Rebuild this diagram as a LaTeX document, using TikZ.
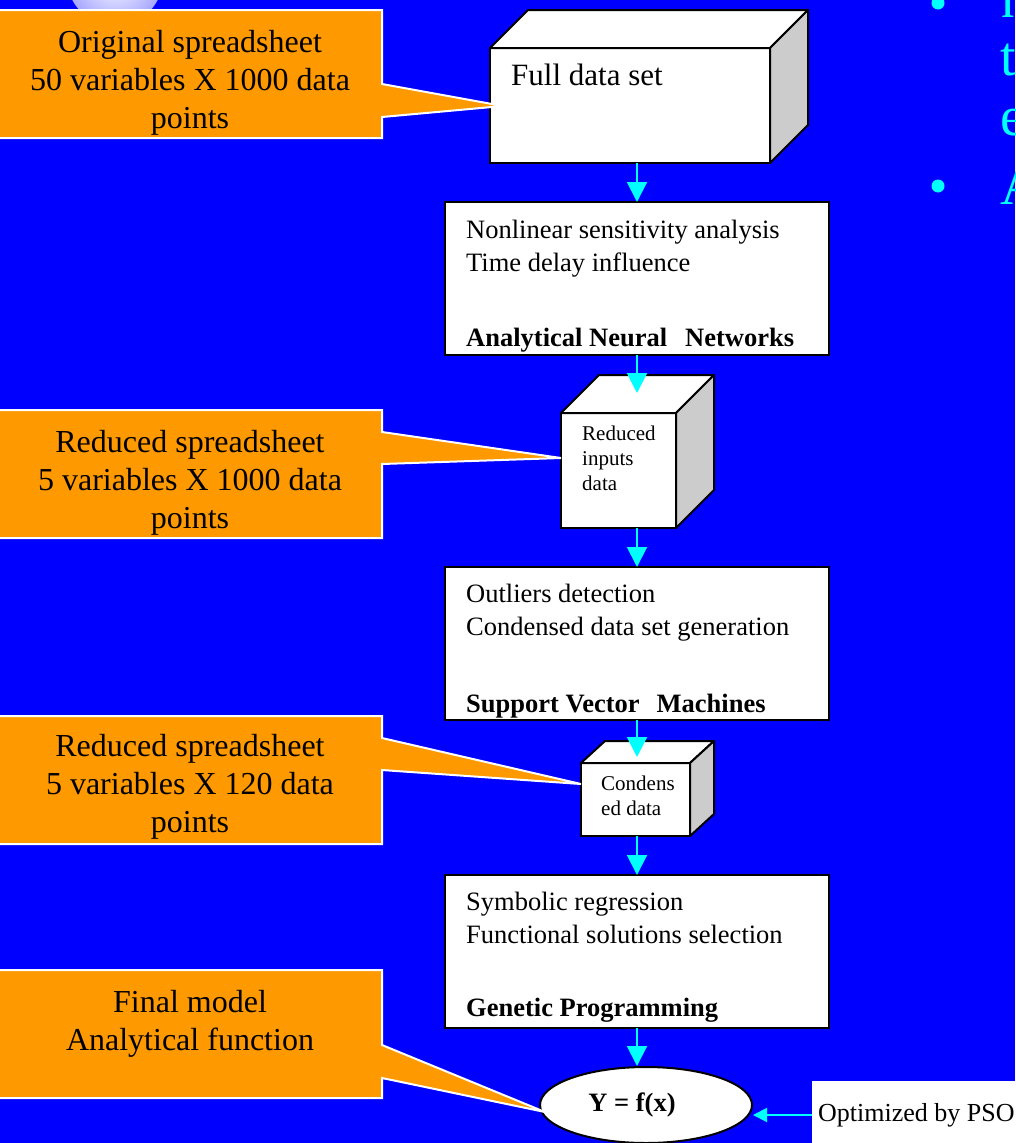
\documentclass[tikz,border=0pt]{standalone}
\usepackage{fontspec}
\setmainfont{Liberation Serif}
\usetikzlibrary{arrows.meta,shapes.geometric}

\definecolor{slideblue}{HTML}{0000FF}
\definecolor{calloutorange}{HTML}{FF9900}
\definecolor{flowcyan}{HTML}{00FFFF}
\definecolor{cubeside}{HTML}{CCCCCC}

\tikzset{
  procbox/.style={draw=black, fill=white, line width=2pt, rectangle, outer sep=0pt,
    minimum width=384pt, minimum height=153pt, anchor=north west},
  cubefront/.style={draw=black, fill=white, line width=2pt, rectangle, outer sep=0pt,
    anchor=north west},
  cubeedge/.style={draw=black, line width=2pt, line join=round},
  callout/.style={fill=calloutorange, draw=white, line width=2pt},
  calltext/.style={font=\fontsize{32}{38}\selectfont, align=center, anchor=base, inner sep=0pt},
  boxtext/.style={font=\fontsize{26.5}{32.5}\selectfont, align=left, anchor=base west, inner sep=0pt},
  boldtext/.style={font=\fontsize{26.5}{32.5}\selectfont\bfseries, anchor=base west, inner sep=0pt},
  cubetext/.style={font=\fontsize{21}{25}\selectfont, align=left, anchor=base west, inner sep=0pt},
  slidetext/.style={font=\fontsize{56}{60}\selectfont, text=flowcyan, anchor=base west, inner sep=0pt},
  flow/.style={draw=flowcyan, line width=2pt, -{Triangle[length=20pt,width=20pt]}},
  smallflow/.style={draw=flowcyan, line width=2pt, -{Triangle[length=14pt,width=14pt]}}
}

\begin{document}
\begin{tikzpicture}[x=1pt, y=-1pt]
\useasboundingbox (0,0) rectangle (1015,1143);
\fill[slideblue] (0,0) rectangle (1015,1143);

% glow behind the first callout
\shade[inner color=white, outer color=slideblue!35!white] (115,-22) circle (48);

% slide text on the right
\fill[flowcyan] (938,3) circle (6.5);
\fill[flowcyan] (938,186) circle (6.5);
\node[slidetext] (s1) at (1001,17) {n};
\node[slidetext] (s2) at (1000,75) {t};
\node[slidetext] (s3) at (1000,135) {e};
\node[slidetext] (s4) at (1000,204) {A};

% full data set cube
\node[cubefront, minimum width=280pt, minimum height=115pt] (full) at (490,48) {};
\draw[cubeedge, fill=white] (full.north west) -- ++(38,-38) -- ++(280,0) -- ++(-38,38) -- cycle;
\draw[cubeedge, fill=cubeside] (full.north east) -- ++(38,-38) -- ++(0,115) -- (full.south east) -- cycle;
\node[anchor=base west, font=\fontsize{31}{37}\selectfont, inner sep=0pt] (fulltxt) at (511,85) {Full data set};

% neural networks
\node[procbox] (ann) at (445,202) {};
\node[boxtext] (anntxt) at (466,271) {Nonlinear sensitivity analysis\\Time delay influence};
\node[boldtext] (annname) at (466,346) {Analytical Neural\hspace{18pt}Networks};

% reduced inputs cube
\node[cubefront, minimum width=115pt, minimum height=115pt] (red) at (561,413) {};
\draw[cubeedge, fill=white] (red.north west) -- ++(38,-38) -- ++(115,0) -- ++(-38,38) -- cycle;
\draw[cubeedge, fill=cubeside] (red.north east) -- ++(38,-38) -- ++(0,115) -- (red.south east) -- cycle;
\node[cubetext] (redtxt) at (582,490) {Reduced\\inputs\\data};

% support vector machines
\node[procbox] (svm) at (445,567) {};
\node[boxtext] (svmtxt) at (466,635) {Outliers detection\\Condensed data set generation};
\node[boldtext] (svmname) at (466,712) {Support Vector\hspace{17pt}Machines};

% condensed data cube
\node[cubefront, minimum width=109pt, minimum height=73pt] (cond) at (581,763) {};
\draw[cubeedge, fill=white] (cond.north west) -- ++(24,-22) -- ++(109,0) -- ++(-24,22) -- cycle;
\draw[cubeedge, fill=cubeside] (cond.north east) -- ++(24,-22) -- ++(0,73) -- (cond.south east) -- cycle;
\node[cubetext] (condtxt) at (601,815) {Condens\\ed data};

% genetic programming
\node[procbox] (gp) at (445,875) {};
\node[boxtext] (gptxt) at (466,943) {Symbolic regression\\Functional solutions selection};
\node[boldtext] (gpname) at (466,1016) {Genetic Programming};

% final function
\node[draw=black, fill=white, ellipse, line width=2pt, inner sep=0pt,
  minimum width=212pt, minimum height=76pt] (fx) at (646,1105) {};
\node[font=\fontsize{26.5}{32}\selectfont\bfseries, anchor=base, inner sep=0pt] (fxtxt) at (632,1111) {Y = f(x)};
\node[draw=none, fill=white, anchor=west, minimum height=68pt, inner xsep=6pt,
  font=\fontsize{26}{31}\selectfont] (pso) at (812,1115) {Optimized by PSO};

% flow arrows
\path (ann.south |- red.north) ++(0,-20) coordinate (redtip);
\path (svm.south |- cond.north) ++(0,-6) coordinate (condtip);
\draw[flow] (full.south -| ann.north) -- (ann.north);
\draw[flow] (ann.south) -- (redtip);
\draw[flow] (red.south -| svm.north) -- (svm.north);
\draw[flow] (svm.south) -- (condtip);
\draw[flow] (cond.south -| gp.north) -- (gp.north);
\draw[flow] (gp.south) -- (gp.south |- fx.north);
\draw[smallflow] (pso.west) -- (pso.west -| fx.east);

% callouts
\path[callout] (-6,10) -- (382,10) -- (382,84) -- (503,106) -- (382,117) -- (382,138) -- (-6,138) -- cycle;
\node[calltext] (origtxt) at (190,128) {Original spreadsheet\\50 variables X 1000 data\\points};

\path[callout] (-6,410) -- (382,410) -- (382,432) -- (561,458) -- (382,464) -- (382,538) -- (-6,538) -- cycle;
\node[calltext] (redsheet) at (190,528) {Reduced spreadsheet\\5 variables X 1000 data\\points};

\path[callout] (-6,716) -- (382,716) -- (382,738) -- (581,784) -- (382,770) -- (382,844) -- (-6,844) -- cycle;
\node[calltext] (condsheet) at (190,832) {Reduced spreadsheet\\5 variables X 120 data\\points};

\path[callout] (-6,970) -- (382,970) -- (382,1045) -- (545,1112) -- (382,1078) -- (382,1098) -- (-6,1098) -- cycle;
\node[calltext] (finaltxt) at (190,1050) {Final model\\Analytical function};

\end{tikzpicture}
\end{document}
